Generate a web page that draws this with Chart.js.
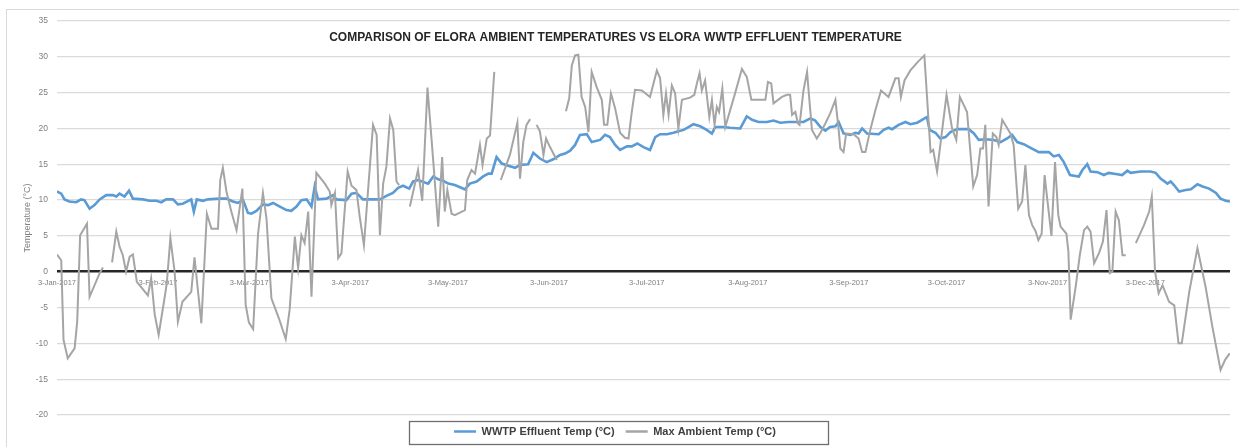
<!DOCTYPE html>
<html>
<head>
<meta charset="utf-8">
<script src="https://cdn.jsdelivr.net/npm/chart.js@4.4.1/dist/chart.umd.min.js"></script>
<style>
html,body{margin:0;padding:0;background:#fff;overflow:hidden;width:1239px;height:447px;}
#frame{position:absolute;left:6px;top:9px;width:1300px;height:520px;border:1px solid #d9d9d9;box-sizing:border-box;}
#c{position:absolute;left:0;top:0;}
</style>
</head>
<body>
<div id="frame"></div>
<canvas id="c" width="1239" height="447"></canvas>
<script>
const chartTitle = 'COMPARISON OF ELORA AMBIENT TEMPERATURES VS ELORA WWTP EFFLUENT TEMPERATURE';
const yAxisTitle = 'Temperature (°C)';
const seriesNames = ['WWTP Effluent Temp (°C)', 'Max Ambient Temp (°C)'];
const startDate = '3-Jan-2017';
const xTickLabels = ['3-Jan-2017','3-Feb-2017','3-Mar-2017','3-Apr-2017','3-May-2017','3-Jun-2017',
  '3-Jul-2017','3-Aug-2017','3-Sep-2017','3-Oct-2017','3-Nov-2017','3-Dec-2017'];
const lastDay = 360; // days after 3-Jan-2017 (29-Dec-2017)

// WWTP effluent temperature: day offset from 3-Jan-2017, value in °C
const effluentDays = [0,1.3,2.3,3.8,5.9,7.4,8.4,10,11.5,13.1,15.1,17.1,18.2,19.2,20.7,22.1,23.3,26.4,28.4,30.5,
  32,33.5,35.6,37.1,38.6,41.2,42,42.9,44.8,46.3,49.9,52,54,55.5,57.1,58.6,59.7,61.2,63.2,64.8,
  66.3,68.4,70.4,71.9,73.5,75,76.6,78.1,79.1,80.1,82.7,84.7,85.7,88.8,90.4,91.9,93.9,99.1,101.1,103.1,
  104.7,106.2,108.1,109.3,110.8,113.9,115.5,117,118.5,120.1,122.1,123.7,125.2,126.7,128.8,130.8,132.4,133.4,134.9,136.5,
  138.5,140.6,142.1,144.6,146.2,148.2,150.3,152.3,154.4,155.9,157.5,159,160.5,162.6,164.1,166.7,168.2,169.7,171.3,172.8,
  174.9,176.4,178.1,180,182,183.6,185.1,187.2,189.2,190.7,192.3,193.8,195.3,197.4,199.4,201,202,204.5,206.6,209.7,
  211.7,213.3,215.3,217.9,219.9,222,224.5,227.1,229.1,231.2,232.7,234.3,235.8,237.3,238.9,239.9,241.4,243.5,245,246,
  247.1,248.6,252.2,253.7,255.2,256.3,258.3,260.4,261.9,264,265.5,267,267.8,269.6,271.1,272.7,274.2,276.3,279.8,281.4,
  282.9,285,287.5,289.6,291.6,293.1,294.7,296.7,298.8,301.3,304.4,305.9,307.5,309,310.9,313.6,314.7,316.2,317.2,319.3,
  321.3,322.8,325.4,326.9,328.5,329.5,332.6,335.6,337.2,338.7,340.8,341.8,342.8,344.4,346.4,348,350,351.6,353.6,355.7,
  357.1,358.7,360];
const effluentTemps = [11.2,10.9,10.1,9.8,9.7,10.1,10.0,8.8,9.3,10.1,10.7,10.7,10.5,10.9,10.5,11.3,10.2,10.1,9.9,9.9,
  9.7,10.1,10.1,9.4,9.5,10.1,8.4,10.1,9.9,10.1,10.2,10.2,9.8,9.6,10.0,8.2,8.1,8.5,9.4,9.3,
  9.6,9.1,8.6,8.5,9.1,10.0,10.1,9.1,11.9,10.1,10.2,10.7,10.1,10.0,10.9,11.0,10.1,10.1,10.6,11.0,
  11.7,12.0,11.6,12.6,12.8,12.3,13.3,12.9,12.7,12.3,12.1,11.8,11.5,12.3,12.6,13.3,13.7,13.7,16.0,15.1,
  14.8,14.5,14.9,15.0,16.6,15.8,15.3,15.7,16.3,16.5,16.9,17.7,19.1,19.2,18.1,18.4,19.1,18.8,17.7,17.0,
  17.5,17.5,17.9,17.4,17.0,18.8,19.2,19.2,19.4,19.6,19.8,20.2,20.6,20.3,19.8,19.3,20.2,20.2,20.1,20.0,
  21.7,21.2,20.9,20.9,21.1,20.8,20.9,20.9,20.9,21.4,21.1,20.2,19.7,20.2,20.3,20.9,19.3,19.1,19.4,19.3,
  20.0,19.3,19.2,19.8,20.1,19.9,20.5,20.9,20.6,20.8,21.2,21.6,19.8,19.4,18.6,18.8,19.5,19.9,19.9,19.3,
  18.4,18.5,18.4,18.1,18.6,19.1,18.1,17.8,17.3,16.7,16.7,16.1,16.3,15.3,13.5,13.3,14.2,15.0,14.0,13.9,
  13.5,13.8,13.6,13.5,14.1,13.8,14.0,14.0,13.8,13.0,12.3,12.6,12.1,11.2,11.4,11.5,12.2,11.9,11.6,11.0,
  10.2,9.9,9.8];

// Max ambient temperature (null = missing day)
const ambientDays = [0,1.3,2,3.3,5.4,6.2,7.1,9.2,10,13.1,14.1,15.5,16.9,18.2,19.2,20.2,21.2,22.3,23.3,24.5,
  27.9,28.9,30,31.2,33,33.7,34.8,36.1,37.1,38.5,41.2,42.2,44.3,46,47.4,49.4,50.1,50.9,52,53.5,
  55.1,56.9,57.9,58.9,60.2,61.7,63.2,64.3,65.8,68.1,70.2,71.4,73,74,75,76,77.1,78.1,79.6,82.2,
  83.7,84.2,85.3,86.3,87.3,89.2,90.4,91.9,92.9,94.2,95.5,97,98.1,99.1,100.1,101.1,102.2,103.2,104.2,105,
  106.5,108.3,110.8,112.1,113.7,115.5,117,118.2,119,119.8,121.1,122.1,125.2,125.9,127.2,128.3,129.8,130.6,131.9,132.9,
  134.2,135.2,136.2,139,141.3,142.1,143.1,144.1,145.2,146.2,147.2,148.2,149.3,150.1,151.3,153.4,154.8,156.2,157.2,158,
  159,160,161,162.1,163.1,164.1,165.6,167.2,167.9,168.9,170,171.3,172.8,174.3,175.4,176.4,177.4,179.5,182,184.1,
  185.1,186.1,186.9,187.7,188.7,189.7,190.7,191.8,194.3,195.6,196.4,197.2,197.9,198.9,200.2,201,201.8,202.5,203.2,204.2,
  205.1,208.1,210.2,211.7,213.1,214.8,217.4,218.2,219.2,219.9,222.5,224,225,225.6,226.6,227.4,227.9,229.1,230.2,230.7,
  231.7,233.2,234.3,235.8,237.3,238.9,239.9,240.4,241.4,242.2,244.5,246,247.1,248.1,249.6,251.2,252.9,255.2,257.3,258.3,
  259,260.1,261.9,264.2,266.2,268.1,268.9,270.1,273,274.7,276,277.1,279.3,281.2,282.4,283.4,284.2,284.9,285.9,287.2,
  288.3,289,290.1,292.6,293.6,295,296.2,297.2,298.3,299.3,300.3,301.2,302.2,303.1,303.9,305.2,306.3,307.3,308,309.8,
  310.4,311.1,312.7,313.9,315.2,316.2,317.2,318.3,319.8,321,322.1,323.1,323.9,324.9,325.9,327,328,329.5,331.1,333.6,
  335.2,336,337,338.1,339.3,341.3,342.9,344.2,345.2,347.5,350,352.5,354.6,357.1,358.5,359.9];
const ambientTemps = [2.4,1.6,-9.5,-12.1,-10.7,-7.0,5.1,6.7,-3.5,-0.2,0.6,null,1.3,5.6,3.5,2.3,0,2.1,2.4,-1.4,
  -3.3,-0.9,-6.0,-8.8,-3.7,-1.6,4.7,0,-7.0,-4.2,-2.8,2.0,-7.2,8.1,6.0,6.0,12.8,14.5,11.2,8.4,
  5.8,11.6,-4.6,-7.1,-8.0,5.3,11.0,7.4,-3.7,-6.5,-9.4,-5.3,4.9,0.5,5.1,4.0,8.4,-3.5,13.8,12.3,
  11.2,9.3,11.0,1.9,2.6,14.0,12.0,11.4,7.7,3.7,11.6,20.5,19.1,5.1,12.3,14.7,21.4,19.8,12.6,12.1,
  null,9.1,14.2,9.9,25.7,15.3,6.3,16.0,8.4,11.4,8.1,7.9,8.6,12.8,14.2,13.7,17.7,14.9,18.6,19.0,
  27.9,null,12.8,16.3,20.8,13.0,18.1,20.5,21.3,null,20.5,19.6,16.3,18.6,17.4,15.6,null,22.4,24.2,28.8,
  30.2,30.3,24.4,23.0,19.5,27.9,25.8,24.0,20.5,20.5,24.9,22.8,19.4,18.7,18.6,22.3,25.4,25.3,24.4,28.1,
  27.0,21.9,24.9,21.9,26.0,24.9,20.0,24.0,24.3,24.7,26.3,27.7,25.3,26.7,21.6,24.0,20.5,23.0,22.3,25.6,
  20.2,24.9,28.3,27.2,24.0,24.0,24.0,26.5,26.3,23.5,24.4,24.7,24.7,21.9,22.3,20.7,20.5,25.3,27.9,25.1,
  19.8,18.6,19.4,20.7,22.1,24.0,19.8,17.2,16.7,19.3,19.2,18.6,16.7,16.7,19.8,22.6,25.3,24.4,27.0,27.0,
  24.4,26.7,28.1,29.3,30.2,16.7,17.0,14.0,24.7,20.0,18.4,24.4,22.3,11.9,13.5,17.2,17.2,20.5,9.1,19.3,
  18.8,17.7,21.2,19.3,17.7,8.8,9.8,14.9,7.9,6.5,5.7,4.4,5.3,13.5,10.2,5.0,15.3,7.9,6.3,5.3,
  2.8,-6.7,-1.9,2.3,5.8,6.3,5.6,1.2,2.6,4.2,8.6,-0.2,0,8.4,7.2,2.3,2.3,null,4.0,6.5,
  8.4,10.5,0,-3.0,-1.9,-4.2,-4.7,-10.0,-10.0,-2.8,3.3,-2.1,-7.7,-13.7,-12.3,-11.4];

const MONTHS = ['Jan','Feb','Mar','Apr','May','Jun','Jul','Aug','Sep','Oct','Nov','Dec'];
function dayOffset(label) {
  const [d, m, y] = label.split('-');
  const t = Date.UTC(+y, MONTHS.indexOf(m), +d);
  const [d0, m0, y0] = startDate.split('-');
  return Math.round((t - Date.UTC(+y0, MONTHS.indexOf(m0), +d0)) / 864e5);
}
const xTickDays = xTickLabels.map(dayOffset);

const toPoints = (days, temps) => days.map((d, i) => ({x: d, y: temps[i]}));

const FONT = '"Liberation Sans", Arial, sans-serif';
const BLUE = '#5b9bd5';
const GREY = '#a5a5a5';

const titlePlugin = {
  id: 'overlayTitle',
  afterDraw(chart) {
    const ctx = chart.ctx;
    ctx.save();
    ctx.font = 'bold 12px ' + FONT;
    ctx.fillStyle = '#262626';
    ctx.textAlign = 'center';
    ctx.textBaseline = 'middle';
    ctx.fillText(chartTitle, chart.width / 2 - 4, chart.chartArea.top + 17);
    ctx.restore();
  }
};

const legendFramePlugin = {
  id: 'legendFrame',
  afterDraw(chart) {
    const lg = chart.legend;
    if (!lg || !lg.legendHitBoxes || !lg.legendHitBoxes.length) return;
    const hb = lg.legendHitBoxes;
    const left = Math.min(...hb.map(h => h.left));
    const right = Math.max(...hb.map(h => h.left + h.width));
    const cy = hb[0].top + hb[0].height / 2;
    const ctx = chart.ctx;
    ctx.save();
    ctx.strokeStyle = '#6f6f6f';
    ctx.lineWidth = 1.3;
    ctx.strokeRect(Math.round(left - 45) + 0.5, Math.round(cy - 11) + 0.5, Math.round(right - left + 97), 23);
    ctx.restore();
  }
};

new Chart(document.getElementById('c'), {
  type: 'line',
  data: {
    datasets: [
      {
        label: seriesNames[0],
        data: toPoints(effluentDays, effluentTemps),
        borderColor: BLUE,
        backgroundColor: BLUE,
        borderWidth: 2.6,
        pointRadius: 0,
        tension: 0,
        spanGaps: false,
        order: 1
      },
      {
        label: seriesNames[1],
        data: toPoints(ambientDays, ambientTemps),
        borderColor: GREY,
        backgroundColor: GREY,
        borderWidth: 2,
        pointRadius: 0,
        tension: 0,
        spanGaps: false,
        order: 0
      }
    ]
  },
  options: {
    responsive: false,
    animation: false,
    devicePixelRatio: 1,
    layout: { padding: { left: 0, right: 9, top: 21, bottom: 0 } },
    plugins: {
      tooltip: { enabled: false },
      title: { display: false },
      legend: {
        position: 'bottom',
        align: 'center',
        sort: (a, b) => a.datasetIndex - b.datasetIndex,
        labels: {
          boxWidth: 22,
          boxHeight: 2.5,
          padding: 11,
          color: '#404040',
          font: { family: FONT, size: 11, weight: 'bold' },
          generateLabels: (chart) => chart.data.datasets.map((ds, i) => ({
            text: ds.label,
            fillStyle: ds.borderColor,
            strokeStyle: ds.borderColor,
            lineWidth: 0,
            fontColor: '#404040',
            hidden: false,
            datasetIndex: i
          }))
        }
      }
    },
    scales: {
      x: {
        type: 'linear',
        position: { y: 0 },
        min: 0,
        max: lastDay,
        afterBuildTicks: (scale) => { scale.ticks = xTickDays.map(v => ({ value: v })); },
        grid: { display: false, drawTicks: false },
        border: { display: false },
        ticks: {
          autoSkip: false,
          maxRotation: 0,
          padding: 7,
          color: '#7f7f7f',
          font: { family: FONT, size: 7.5 },
          callback: (value, index) => xTickLabels[index]
        }
      },
      y: {
        type: 'linear',
        position: 'left',
        min: -20,
        max: 35,
        afterFit: (scale) => { scale.width = 57; },
        ticks: {
          stepSize: 5,
          padding: 9,
          color: '#7f7f7f',
          font: { family: FONT, size: 8.5 }
        },
        grid: {
          drawTicks: false,
          color: (ctx) => (ctx.tick && ctx.tick.value === 0) ? '#262626' : '#dadada',
          lineWidth: (ctx) => (ctx.tick && ctx.tick.value === 0) ? 2.6 : 1.3
        },
        border: { display: false },
        title: {
          display: true,
          text: yAxisTitle,
          color: '#7f7f7f',
          font: { family: FONT, size: 9 },
          padding: { top: 22, bottom: 0 }
        }
      }
    }
  },
  plugins: [titlePlugin, legendFramePlugin]
});
</script>
</body>
</html>
